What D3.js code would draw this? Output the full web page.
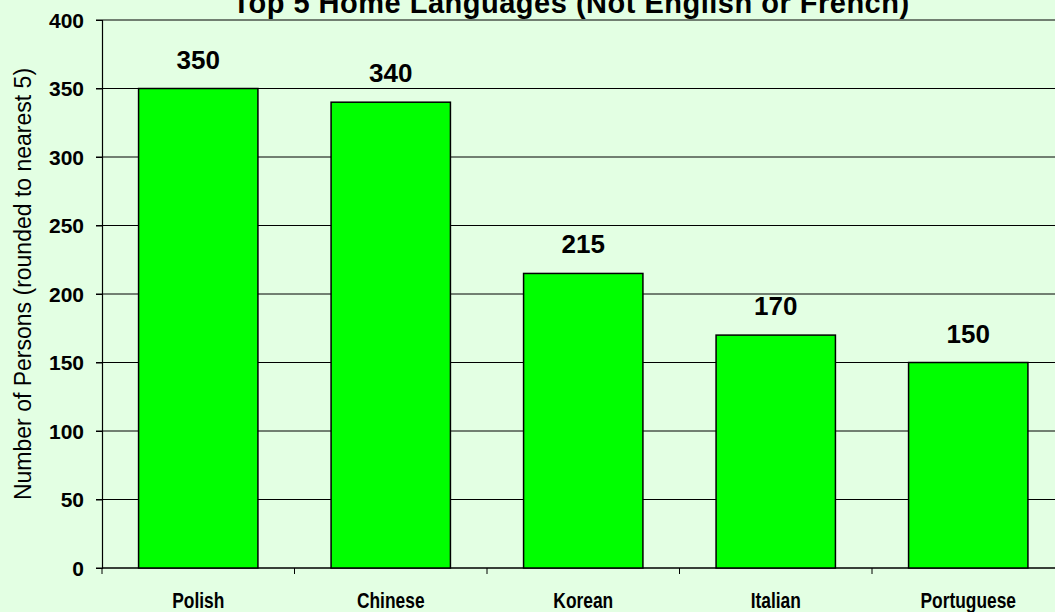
<!DOCTYPE html>
<html>
<head>
<meta charset="utf-8">
<script src="https://cdn.jsdelivr.net/npm/d3@7"></script>
<style>
    body { margin: 0; background: #e3ffe3; }
    svg { display: block; font-family: "Liberation Sans", Arial, sans-serif; }
    .grid line { stroke: #000; stroke-width: 1; }
    .bar { fill: #00ff00; stroke: #000; stroke-width: 1.5; }
    .ylab { font-size: 21px; font-weight: bold; fill: #000; }
</style>
</head>
<body>
<svg id="chart" width="1055" height="612"></svg>
<script>
// home languages other than English or French
let languages = ["Polish", "Chinese", "Korean", "Italian", "Portuguese"];
let persons = [350, 340, 215, 170, 150];
let yTicks = [0, 50, 100, 150, 200, 250, 300, 350, 400];

let svg = d3.select("#chart");
let plotLeft = 102, plotTop = 20, plotBottom = 568, bandW = 192.5;

let x = d3.scaleBand().domain(languages)
    .range([plotLeft, plotLeft + bandW * languages.length])
    .paddingInner(0.38).paddingOuter(0.19);
let y = d3.scaleLinear().domain([0, 400]).range([plotBottom, plotTop]);

svg.append("rect").attr("width", 1055).attr("height", 612).attr("fill", "#e3ffe3");

// horizontal grid lines
svg.append("g").attr("class", "grid")
    .selectAll("line").data(yTicks).join("line")
    .attr("x1", plotLeft - 6).attr("x2", 1055)
    .attr("y1", d => y(d)).attr("y2", d => y(d));

// y axis (line + ticks from d3, labels drawn separately)
let yAxis = d3.axisLeft(y).tickValues(yTicks).tickSize(6).tickFormat("");
let gy = svg.append("g").attr("transform", `translate(${plotLeft},0)`).call(yAxis);
gy.select(".domain").attr("stroke", "#000").attr("stroke-width", 1.2);
gy.selectAll(".tick line").attr("stroke", "#000");

svg.append("g").selectAll("text").data(yTicks).join("text")
    .attr("class", "ylab")
    .attr("x", plotLeft - 18)
    .attr("y", d => y(d) + 7.5)
    .attr("text-anchor", "end")
    .text(d => d);

// x axis ticks at category boundaries
let boundaries = d3.range(languages.length + 1).map(i => plotLeft + i * bandW);
svg.append("g").selectAll("line").data(boundaries).join("line")
    .attr("x1", d => d).attr("x2", d => d)
    .attr("y1", plotBottom).attr("y2", plotBottom + 6)
    .attr("stroke", "#000");
svg.append("line").attr("x1", plotLeft).attr("x2", 1055)
    .attr("y1", plotBottom).attr("y2", plotBottom).attr("stroke", "#000").attr("stroke-width", 1.2);

// bars
svg.append("g").selectAll("rect").data(languages).join("rect")
    .attr("class", "bar")
    .attr("x", d => x(d))
    .attr("width", x.bandwidth())
    .attr("y", (d, i) => y(persons[i]))
    .attr("height", (d, i) => plotBottom - y(persons[i]));

// value labels
svg.append("g").selectAll("text").data(languages).join("text")
    .attr("x", d => x(d) + x.bandwidth() / 2)
    .attr("y", (d, i) => y(persons[i]) - 20)
    .attr("text-anchor", "middle")
    .style("font-size", "26px").style("font-weight", "bold")
    .text((d, i) => persons[i]);

// category labels (condensed look)
svg.append("g").selectAll("text").data(languages).join("text")
    .attr("transform", d => `translate(${x(d) + x.bandwidth() / 2},608) scale(0.79,1)`)
    .attr("text-anchor", "middle")
    .style("font-size", "22px").style("font-weight", "bold")
    .text(d => d);

// title
svg.append("text")
    .attr("x", 571).attr("y", 13)
    .attr("text-anchor", "middle")
    .style("font-size", "29px").style("font-weight", "bold")
    .attr("letter-spacing", 0.5)
    .text("Top 5 Home Languages (Not English or French)");

// y axis title
svg.append("text")
    .attr("transform", "translate(31,284) rotate(-90)")
    .attr("text-anchor", "middle")
    .style("font-size", "23px")
    .text("Number of Persons (rounded to nearest 5)");
</script>
</body>
</html>
